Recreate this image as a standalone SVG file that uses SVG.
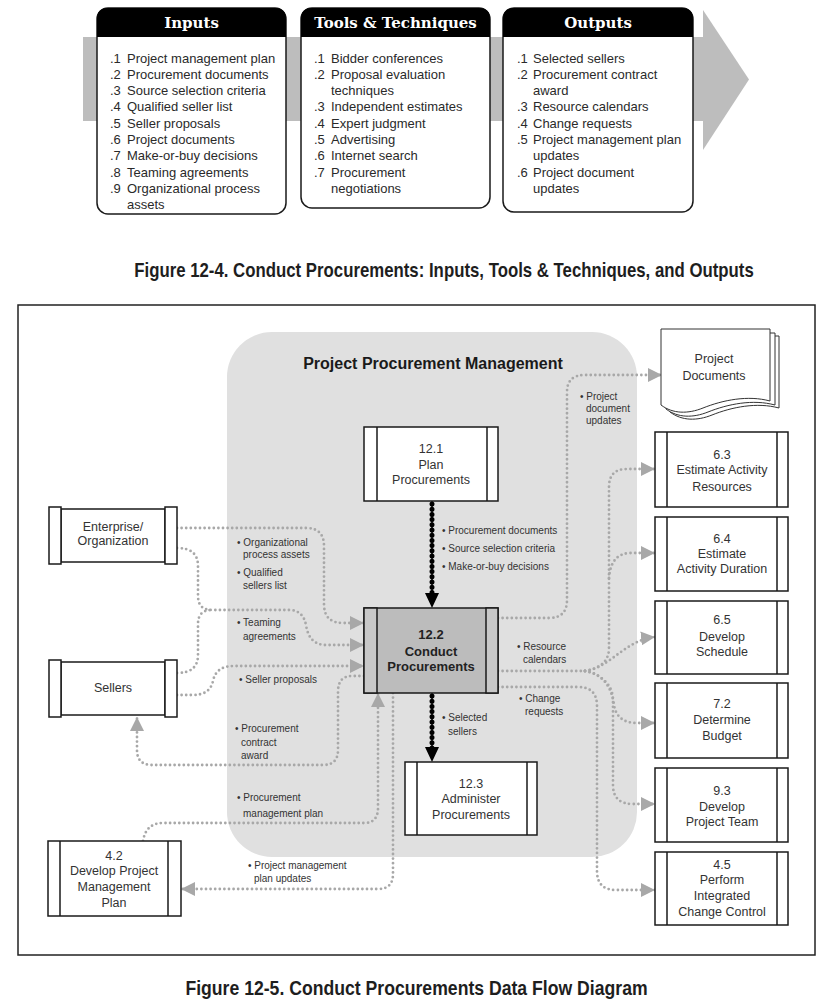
<svg xmlns="http://www.w3.org/2000/svg" width="838" height="1001" viewBox="0 0 838 1001">
<style>
.list{font-family:"Liberation Sans",Arial,sans-serif;font-size:13px;fill:#2a2a2a}
.hdr{font-family:"DejaVu Serif",serif;font-weight:bold;font-size:15px;fill:#fff;text-anchor:middle}
.cap{font-family:"Liberation Sans",Arial,sans-serif;font-weight:bold;fill:#1e1e1e;text-anchor:middle}
.nt{font-family:"Liberation Sans",Arial,sans-serif;font-size:12.5px;fill:#333;text-anchor:middle}
.ntb{font-family:"Liberation Sans",Arial,sans-serif;font-size:13px;font-weight:bold;fill:#222;text-anchor:middle}
.lbl{font-family:"Liberation Sans",Arial,sans-serif;font-size:10px;fill:#333}
.box{fill:#fff;stroke:#1a1a1a;stroke-width:1.5}
.bar{fill:none;stroke:#1a1a1a;stroke-width:1.5}
.dot{fill:none;stroke:#a8a8a8;stroke-width:2.8;stroke-dasharray:0 4.6;stroke-linecap:round}
.dota{fill:none;stroke:#a8a8a8;stroke-width:2.8;stroke-dasharray:0 4.6;stroke-linecap:round;marker-end:url(#ga)}
.blk{fill:none;stroke:#000;stroke-width:1.4}
.blkd{fill:none;stroke:#000;stroke-width:5;stroke-dasharray:0 5.2;stroke-linecap:round}
.page{fill:#fff;stroke:#333;stroke-width:1}
</style>
<defs>
<marker id="ga" markerUnits="userSpaceOnUse" markerWidth="14" markerHeight="14" viewBox="0 0 14 14" refX="14" refY="7" orient="auto">
<path d="M0,0 L14,7 L0,14 Z" fill="#a8a8a8"/>
</marker>
<marker id="ba" markerUnits="userSpaceOnUse" markerWidth="15" markerHeight="14" viewBox="0 0 15 14" refX="15" refY="7" orient="auto">
<path d="M0,0 L15,7 L0,14 Z" fill="#000"/>
</marker>
</defs>
<rect width="838" height="1001" fill="#fff"/>

<!-- Figure 12-4 -->
<g id="itto-arrow">
<rect x="83" y="37" width="622" height="84" fill="#bdbdbd"/>
<polygon points="703,10 749,79.5 703,150" fill="#bdbdbd"/>
</g>
<g id="inputs">
<rect x="97" y="8" width="189" height="206" rx="11" class="box"/>
<path d="M97,37 V19 Q97,8 108,8 H275 Q286,8 286,19 V37 Z" fill="#000"/>
<text x="191.5" y="28" class="hdr">Inputs</text>
<text class="list">
<tspan x="110" y="62.5">.1</tspan><tspan x="127">Project management plan</tspan>
<tspan x="110" y="78.8">.2</tspan><tspan x="127">Procurement documents</tspan>
<tspan x="110" y="95.1">.3</tspan><tspan x="127">Source selection criteria</tspan>
<tspan x="110" y="111.4">.4</tspan><tspan x="127">Qualified seller list</tspan>
<tspan x="110" y="127.7">.5</tspan><tspan x="127">Seller proposals</tspan>
<tspan x="110" y="144">.6</tspan><tspan x="127">Project documents</tspan>
<tspan x="110" y="160.3">.7</tspan><tspan x="127">Make-or-buy decisions</tspan>
<tspan x="110" y="176.6">.8</tspan><tspan x="127">Teaming agreements</tspan>
<tspan x="110" y="192.9">.9</tspan><tspan x="127">Organizational process</tspan>
<tspan x="127" y="209.2">assets</tspan>
</text>
</g>
<g id="tools">
<rect x="301" y="8" width="189" height="200" rx="11" class="box"/>
<path d="M301,37 V19 Q301,8 312,8 H479 Q490,8 490,19 V37 Z" fill="#000"/>
<text x="395.5" y="28" class="hdr">Tools &amp; Techniques</text>
<text class="list">
<tspan x="314" y="62.5">.1</tspan><tspan x="331">Bidder conferences</tspan>
<tspan x="314" y="78.8">.2</tspan><tspan x="331">Proposal evaluation</tspan>
<tspan x="331" y="95.1">techniques</tspan>
<tspan x="314" y="111.4">.3</tspan><tspan x="331">Independent estimates</tspan>
<tspan x="314" y="127.7">.4</tspan><tspan x="331">Expert judgment</tspan>
<tspan x="314" y="144">.5</tspan><tspan x="331">Advertising</tspan>
<tspan x="314" y="160.3">.6</tspan><tspan x="331">Internet search</tspan>
<tspan x="314" y="176.6">.7</tspan><tspan x="331">Procurement</tspan>
<tspan x="331" y="192.9">negotiations</tspan>
</text>
</g>
<g id="outputs">
<rect x="503" y="8" width="190" height="204" rx="11" class="box"/>
<path d="M503,37 V19 Q503,8 514,8 H682 Q693,8 693,19 V37 Z" fill="#000"/>
<text x="598" y="28" class="hdr">Outputs</text>
<text class="list">
<tspan x="517" y="62.5">.1</tspan><tspan x="533">Selected sellers</tspan>
<tspan x="517" y="78.8">.2</tspan><tspan x="533">Procurement contract</tspan>
<tspan x="533" y="95.1">award</tspan>
<tspan x="517" y="111.4">.3</tspan><tspan x="533">Resource calendars</tspan>
<tspan x="517" y="127.7">.4</tspan><tspan x="533">Change requests</tspan>
<tspan x="517" y="144">.5</tspan><tspan x="533">Project management plan</tspan>
<tspan x="533" y="160.3">updates</tspan>
<tspan x="517" y="176.6">.6</tspan><tspan x="533">Project document</tspan>
<tspan x="533" y="192.9">updates</tspan>
</text>
</g>
<text class="cap" font-size="20" transform="translate(444,277) scale(0.84,1)" x="0" y="0">Figure 12-4. Conduct Procurements: Inputs, Tools &amp; Techniques, and Outputs</text>

<!-- Figure 12-5 -->
<rect x="18" y="305" width="797" height="650" fill="none" stroke="#222" stroke-width="1.5"/>
<g id="ppm-region">
<rect x="227" y="332" width="410" height="525" rx="45" fill="#e0e0e0"/>
<text x="433" y="369" font-family="Liberation Sans,Arial,sans-serif" font-weight="bold" font-size="16" fill="#1a1a1a" text-anchor="middle">Project Procurement Management</text>
</g>

<g id="connectors">
<path class="dota" d="M177,528 H306 Q324,528 324,546 V604 Q324,623 343,623 H364"/>
<path class="dota" d="M177,548 Q198,548 198,566 V596 Q198,610 212,610 H289 Q303,610 306,625 Q309,645 326,645 H364"/>
<path class="dot" d="M177,673 Q198,673 198,655 V624 Q198,610 212,610"/>
<path class="dota" d="M177,695 H193 Q210,695 213,681 Q216,666 234,666 H364"/>
<path class="dota" d="M364,676 H352 Q338,676 338,692 V750 Q338,765 323,765 H152 Q137,765 137,750 V717"/>
<path class="dota" d="M143,841 Q146,823 163,823 H364 Q378,823 378,808 V693"/>
<path class="dota" d="M393,693 V874 Q393,889 378,889 H181"/>
<path class="dota" d="M498,618 H549 Q567,618 567,600 V392 Q567,375 585,375 H662"/>
<path class="dot" d="M498,671 H585"/>
<path class="dota" d="M585,671 Q609,667 609,648 V487 Q609,469 627,469 H655"/>
<path class="dota" d="M609,578 Q611,553 631,553 H655"/>
<path class="dota" d="M585,671 C610,668 625,640 655,637"/>
<path class="dota" d="M585,671 C605,674 612,690 614,705 Q617,723 637,723 H655"/>
<path class="dota" d="M585,671 C600,674 613,684 613,700 V785 Q613,804 633,804 H655"/>
<path class="dota" d="M498,687 H578 Q597,687 597,706 V871 Q597,890 616,890 H655"/>
<path class="blk" d="M432,501 V600"/>
<path class="blkd" d="M432,504 V594"/>
<path d="M432,501 V608" fill="none" stroke="#000" stroke-width="0.1" marker-end="url(#ba)"/>
<path class="blk" d="M432,693 V755"/>
<path class="blkd" d="M432,696 V748"/>
<path d="M432,693 V762" fill="none" stroke="#000" stroke-width="0.1" marker-end="url(#ba)"/>
</g>

<g id="labels">
<text class="lbl"><tspan x="237" y="545.5">• Organizational</tspan><tspan x="243" y="557.5">process assets</tspan><tspan x="237" y="575.5">• Qualified</tspan><tspan x="243" y="588.5">sellers list</tspan></text>
<text class="lbl"><tspan x="237" y="625.5">• Teaming</tspan><tspan x="243" y="639.5">agreements</tspan></text>
<text class="lbl"><tspan x="239" y="682.5">• Seller proposals</tspan></text>
<text class="lbl"><tspan x="235" y="731.5">• Procurement</tspan><tspan x="241" y="745.5">contract</tspan><tspan x="241" y="758.5">award</tspan></text>
<text class="lbl"><tspan x="237" y="800.5">• Procurement</tspan><tspan x="243" y="816.5">management plan</tspan></text>
<text class="lbl"><tspan x="248" y="868.5">• Project management</tspan><tspan x="254" y="881.5">plan updates</tspan></text>
<text class="lbl"><tspan x="442" y="533.5">• Procurement documents</tspan><tspan x="442" y="551.5">• Source selection criteria</tspan><tspan x="442" y="569.5">• Make-or-buy decisions</tspan></text>
<text class="lbl"><tspan x="580" y="399.5">• Project</tspan><tspan x="586" y="411.5">document</tspan><tspan x="586" y="423.5">updates</tspan></text>
<text class="lbl"><tspan x="517" y="649.5">• Resource</tspan><tspan x="523" y="662.5">calendars</tspan></text>
<text class="lbl"><tspan x="519" y="701.5">• Change</tspan><tspan x="525" y="714.5">requests</tspan></text>
<text class="lbl"><tspan x="442" y="720.5">• Selected</tspan><tspan x="448" y="734.5">sellers</tspan></text>
</g>

<g id="node-12-1">
<rect x="364" y="427" width="134" height="74" class="box"/>
<path d="M377,427 V501 M487,427 V501" class="bar"/>
<text class="nt"><tspan x="431" y="452.5">12.1</tspan><tspan x="431" y="468.5">Plan</tspan><tspan x="431" y="484">Procurements</tspan></text>
</g>
<g id="node-12-2">
<rect x="364" y="608" width="134" height="85" fill="#bcbcbc" stroke="#1a1a1a" stroke-width="1.5"/>
<rect x="364" y="608" width="13" height="85" fill="#c8c8c8" stroke="#1a1a1a" stroke-width="1.5"/>
<rect x="486" y="608" width="12" height="85" fill="#c8c8c8" stroke="#1a1a1a" stroke-width="1.5"/>
<text class="ntb"><tspan x="431" y="639">12.2</tspan><tspan x="431" y="655.5">Conduct</tspan><tspan x="431" y="671">Procurements</tspan></text>
</g>
<g id="node-12-3">
<rect x="405" y="762" width="132" height="73" class="box"/>
<path d="M417,762 V835 M527,762 V835" class="bar"/>
<text class="nt"><tspan x="471" y="787.5">12.3</tspan><tspan x="471" y="802.5">Administer</tspan><tspan x="471" y="818.5">Procurements</tspan></text>
</g>
<g id="node-enterprise">
<rect x="61" y="509" width="104" height="53" class="box"/>
<rect x="49" y="507" width="12" height="57" class="box"/>
<rect x="165" y="507" width="12" height="57" class="box"/>
<text class="nt"><tspan x="113" y="530.5">Enterprise/</tspan><tspan x="113" y="544.5">Organization</tspan></text>
</g>
<g id="node-sellers">
<rect x="61" y="662" width="104" height="53" class="box"/>
<rect x="49" y="660" width="12" height="57" class="box"/>
<rect x="165" y="660" width="12" height="57" class="box"/>
<text class="nt" x="113" y="691.5">Sellers</text>
</g>
<g id="node-4-2">
<rect x="48" y="841" width="133" height="75" class="box"/>
<path d="M60,841 V916 M168,841 V916" class="bar"/>
<text class="nt"><tspan x="114" y="859.5">4.2</tspan><tspan x="114" y="874.5">Develop Project</tspan><tspan x="114" y="890.5">Management</tspan><tspan x="114" y="906.5">Plan</tspan></text>
</g>
<g id="node-project-documents">
<path class="page" d="M670,336 H779 V408 C757,402 732,407 712,415 C697,421 682,421 670,412 Z"/>
<path class="page" d="M666,333 H775 V405 C753,399 728,404 708,412 C693,418 678,418 666,409 Z"/>
<path class="page" d="M661,329 H770 V401 C748,395 723,400 703,408 C688,414 673,414 661,405 Z"/>
<text class="nt"><tspan x="714" y="362.5">Project</tspan><tspan x="714" y="379.5">Documents</tspan></text>
</g>
<g id="node-6-3">
<rect x="655" y="432" width="133" height="75" class="box"/>
<path d="M667,432 V507 M777,432 V507" class="bar"/>
<text class="nt"><tspan x="722" y="458.5">6.3</tspan><tspan x="722" y="473.5">Estimate Activity</tspan><tspan x="722" y="490.5">Resources</tspan></text>
</g>
<g id="node-6-4">
<rect x="655" y="517" width="133" height="74" class="box"/>
<path d="M667,517 V591 M777,517 V591" class="bar"/>
<text class="nt"><tspan x="722" y="542.5">6.4</tspan><tspan x="722" y="557.5">Estimate</tspan><tspan x="722" y="572.5">Activity Duration</tspan></text>
</g>
<g id="node-6-5">
<rect x="655" y="601" width="133" height="73" class="box"/>
<path d="M667,601 V674 M777,601 V674" class="bar"/>
<text class="nt"><tspan x="722" y="623.5">6.5</tspan><tspan x="722" y="640.5">Develop</tspan><tspan x="722" y="655.5">Schedule</tspan></text>
</g>
<g id="node-7-2">
<rect x="655" y="683" width="133" height="75" class="box"/>
<path d="M667,683 V758 M777,683 V758" class="bar"/>
<text class="nt"><tspan x="722" y="707.5">7.2</tspan><tspan x="722" y="723.5">Determine</tspan><tspan x="722" y="739.5">Budget</tspan></text>
</g>
<g id="node-9-3">
<rect x="655" y="768" width="133" height="74" class="box"/>
<path d="M667,768 V842 M777,768 V842" class="bar"/>
<text class="nt"><tspan x="722" y="794.5">9.3</tspan><tspan x="722" y="810.5">Develop</tspan><tspan x="722" y="825.5">Project Team</tspan></text>
</g>
<g id="node-4-5">
<rect x="655" y="852" width="133" height="73" class="box"/>
<path d="M667,852 V925 M777,852 V925" class="bar"/>
<text class="nt"><tspan x="722" y="868.5">4.5</tspan><tspan x="722" y="883.5">Perform</tspan><tspan x="722" y="899.5">Integrated</tspan><tspan x="722" y="915.5">Change Control</tspan></text>
</g>

<text class="cap" font-size="21" transform="translate(416.5,995) scale(0.84,1)" x="0" y="0">Figure 12-5. Conduct Procurements Data Flow Diagram</text>
</svg>
